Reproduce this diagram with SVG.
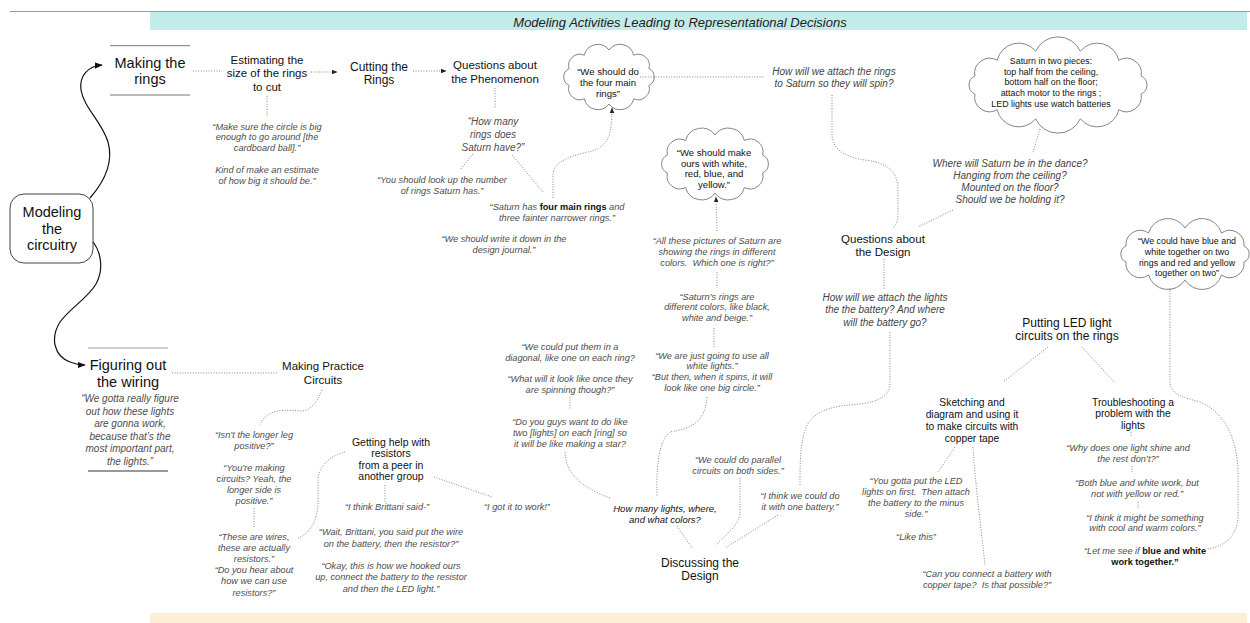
<svg xmlns="http://www.w3.org/2000/svg" width="1250" height="623" viewBox="0 0 1250 623">
  <defs>
    <style>
      text { font-family: "Liberation Sans", Arial, Helvetica, sans-serif; text-anchor: middle; fill: #111; }
      .title { font-size: 13px; font-style: italic; fill: #222; }
      .big { font-size: 14.5px; }
      .mid { font-size: 11.5px; }
      .mid12 { font-size: 12px; }
      .sm { font-size: 10.3px; }
      .q { font-size: 9.2px; font-style: italic; fill: #4d4d4d; }
      .ask { font-size: 10px; font-style: italic; fill: #444; }
      .topic { font-size: 9.5px; font-style: italic; fill: #111; }
      .cl { font-size: 9.6px; }
      .cl2 { font-size: 8.9px; }
      .b { font-weight: bold; font-style: normal; fill: #111; }
      .cloud { fill: #fff; stroke: #777; stroke-width: 0.9; }
      .rule { stroke: #777; stroke-width: 1; }
      .dot { fill: none; stroke: #777; stroke-width: 0.9; stroke-dasharray: 1 1.6; }
      .solid { fill: none; stroke: #111; stroke-width: 1.2; }
    </style>
    <marker id="arrow" viewBox="0 0 10 10" refX="9" refY="5" markerWidth="8" markerHeight="8" markerUnits="userSpaceOnUse" orient="auto">
      <path d="M0,1 L10,5 L0,9 z" fill="#111"/>
    </marker>
    <marker id="arrow-dot" viewBox="0 0 10 10" refX="9" refY="5" markerWidth="6" markerHeight="6" markerUnits="userSpaceOnUse" orient="auto">
      <path d="M0,1 L10,5 L0,9 z" fill="#222"/>
    </marker>
  </defs>

  <rect width="1250" height="623" fill="#fff"/>

  <!-- header and footer bands -->
  <g id="frame">
    <line x1="10" y1="11.5" x2="1250" y2="11.5" stroke="#999" stroke-width="1"/>
    <rect x="150" y="12" width="1097" height="18" fill="#c2ebe9"/>
    <rect x="150" y="613" width="1097" height="10" fill="#fdeed6"/>
    <text class="title" x="680" y="26.5">Modeling Activities Leading to Representational Decisions</text>
  </g>

  <!-- root node -->
  <g id="n-modeling-circuitry">
    <rect x="10" y="194" width="83" height="69" rx="14" fill="#fff" stroke="#444" stroke-width="1"/>
    <text class="big"><tspan x="52" y="217">Modeling</tspan><tspan x="52" y="234">the</tspan><tspan x="52" y="250">circuitry</tspan></text>
  </g>

  <!-- upper branch: making the rings -->
  <g id="n-making-rings">
    <line class="rule" x1="110" y1="45.7" x2="190" y2="45.7"/>
    <line class="rule" x1="110" y1="95" x2="190" y2="95"/>
    <text class="big"><tspan x="150" y="68">Making the</tspan><tspan x="150" y="84">rings</tspan></text>
  </g>

  <g id="n-estimating">
    <text class="mid"><tspan x="267" y="63.5">Estimating the</tspan><tspan x="267" y="77">size of the rings</tspan><tspan x="267" y="90.5">to cut</tspan></text>
  </g>
  <g id="q-circle-big">
    <text class="q"><tspan x="267" y="129.5">“Make sure the circle is big</tspan><tspan x="267" y="140">enough to go around [the</tspan><tspan x="267" y="150.5">cardboard ball].”</tspan><tspan x="267" y="172.5">Kind of make an estimate</tspan><tspan x="267" y="183.5">of how big it should be.”</tspan></text>
  </g>

  <g id="n-cutting">
    <text class="mid12"><tspan x="379" y="70.5">Cutting the</tspan><tspan x="379" y="84">Rings</tspan></text>
  </g>

  <g id="n-questions-phenomenon">
    <text class="mid"><tspan x="495" y="68.5">Questions about</tspan><tspan x="495" y="82.5">the Phenomenon</tspan></text>
  </g>
  <g id="q-how-many-rings">
    <text class="q" style="font-size:10px"><tspan x="493" y="125">“How many</tspan><tspan x="493" y="138">rings does</tspan><tspan x="493" y="150.5">Saturn have?”</tspan></text>
  </g>
  <g id="q-look-up">
    <text class="q"><tspan x="442" y="183">“You should look up the number</tspan><tspan x="442" y="194">of rings Saturn has.”</tspan></text>
  </g>
  <g id="q-four-main">
    <text class="q"><tspan x="557" y="210">“Saturn has <tspan class="b">four main rings</tspan> and</tspan><tspan x="557" y="221">three fainter narrower rings.”</tspan></text>
  </g>
  <g id="q-journal">
    <text class="q"><tspan x="504" y="242">“We should write it down in the</tspan><tspan x="504" y="253">design journal.”</tspan></text>
  </g>

  <g id="c-four-main">
    <path class="cloud" d="M648.9,85.3 A11.2,11.2 0 0 1 633.7,98.8 A13.9,13.9 0 0 1 609,104 A13.9,13.9 0 0 1 584.3,98.8 A11.2,11.2 0 0 1 569.1,85.3 A9.1,9.1 0 0 1 569.1,68.7 A11.2,11.2 0 0 1 584.3,55.2 A13.9,13.9 0 0 1 609,50 A13.9,13.9 0 0 1 633.7,55.2 A11.2,11.2 0 0 1 648.9,68.7 A9.1,9.1 0 0 1 648.9,85.3 Z"/>
    <text class="cl"><tspan x="608" y="75">“We should do</tspan><tspan x="608" y="86">the four main</tspan><tspan x="608" y="96.5">rings”</tspan></text>
  </g>

  <g id="q-attach-rings">
    <text class="ask"><tspan x="834" y="75">How will we attach the rings</tspan><tspan x="834" y="87">to Saturn so they will spin?</tspan></text>
  </g>

  <g id="c-two-pieces">
    <path class="cloud" d="M1141.1,94.1 A15,15 0 0 1 1118.8,109.7 A22,22 0 0 1 1080.3,118.8 A24.5,24.5 0 0 1 1035.7,118.8 A22,22 0 0 1 997.2,109.7 A15,15 0 0 1 974.9,94.1 A10,10 0 0 1 974.9,75.9 A15,15 0 0 1 997.2,60.3 A22,22 0 0 1 1035.7,51.2 A24.5,24.5 0 0 1 1080.3,51.2 A22,22 0 0 1 1118.8,60.3 A15,15 0 0 1 1141.1,75.9 A10,10 0 0 1 1141.1,94.1 Z"/>
    <text class="cl2"><tspan x="1051" y="63.5">Saturn in two pieces:</tspan><tspan x="1051" y="74.5">top half from the ceiling,</tspan><tspan x="1051" y="85">bottom half on the floor;</tspan><tspan x="1051" y="95.5">attach motor to the rings ;</tspan><tspan x="1051" y="106.5">LED lights use watch batteries</tspan></text>
  </g>

  <g id="q-where-saturn">
    <text class="ask"><tspan x="1010" y="167">Where will Saturn be in the dance?</tspan><tspan x="1010" y="179">Hanging from the ceiling?</tspan><tspan x="1010" y="191">Mounted on the floor?</tspan><tspan x="1010" y="203">Should we be holding it?</tspan></text>
  </g>

  <g id="n-questions-design">
    <text class="mid"><tspan x="883" y="242.5">Questions about</tspan><tspan x="883" y="256">the Design</tspan></text>
  </g>
  <g id="q-attach-lights">
    <text class="ask"><tspan x="885" y="300.5">How will we attach the lights</tspan><tspan x="885" y="313">the the battery? And where</tspan><tspan x="885" y="325.5">will the battery go?</tspan></text>
  </g>

  <g id="c-make-ours">
    <path class="cloud" d="M762.6,173 A12.8,12.8 0 0 1 744.4,187.5 A16.5,16.5 0 0 1 715,193 A16.5,16.5 0 0 1 685.6,187.5 A12.8,12.8 0 0 1 667.4,173 A9.9,9.9 0 0 1 667.4,155 A12.8,12.8 0 0 1 685.6,140.5 A16.5,16.5 0 0 1 715,135 A16.5,16.5 0 0 1 744.4,140.5 A12.8,12.8 0 0 1 762.6,155 A9.9,9.9 0 0 1 762.6,173 Z"/>
    <text class="cl"><tspan x="714" y="156">“We should make</tspan><tspan x="714" y="166.7">ours with white,</tspan><tspan x="714" y="177.4">red, blue, and</tspan><tspan x="714" y="188.1">yellow.”</tspan></text>
  </g>

  <g id="q-all-pictures">
    <text class="q"><tspan x="717" y="243.5">“All these pictures of Saturn are</tspan><tspan x="717" y="254.5">showing the rings in different</tspan><tspan x="717" y="265.5">colors.&#160; Which one is right?”</tspan></text>
  </g>
  <g id="q-beige">
    <text class="q"><tspan x="717" y="299.5">“Saturn’s rings are</tspan><tspan x="717" y="310">different colors, like black,</tspan><tspan x="717" y="320.5">white and beige.”</tspan></text>
  </g>
  <g id="q-white-lights">
    <text class="q"><tspan x="712" y="358.5">“We are just going to use all</tspan><tspan x="712" y="369.2">white lights.”</tspan><tspan x="712" y="380">“But then, when it spins, it will</tspan><tspan x="712" y="391">look like one big circle.”</tspan></text>
  </g>

  <g id="q-diagonal">
    <text class="q"><tspan x="570" y="349.5">“We could put them in a</tspan><tspan x="570" y="360.5">diagonal, like one on each ring?</tspan></text>
  </g>
  <g id="q-spinning">
    <text class="q"><tspan x="570" y="381.5">“What will it look like once they</tspan><tspan x="570" y="392.5">are spinning though?”</tspan></text>
  </g>
  <g id="q-star">
    <text class="q"><tspan x="570" y="424.5">“Do you guys want to do like</tspan><tspan x="570" y="435.5">two [lights] on each [ring] so</tspan><tspan x="570" y="446.5">it will be like making a star?</tspan></text>
  </g>

  <g id="n-how-many-lights">
    <text class="topic"><tspan x="665" y="511.5">How many lights, where,</tspan><tspan x="665" y="522.5">and what colors?</tspan></text>
  </g>
  <g id="q-parallel">
    <text class="q"><tspan x="738" y="462.5">“We could do parallel</tspan><tspan x="738" y="473.5">circuits on both sides.”</tspan></text>
  </g>
  <g id="q-one-battery">
    <text class="q"><tspan x="800" y="498.5">“I think we could do</tspan><tspan x="800" y="509.5">it with one battery.”</tspan></text>
  </g>
  <g id="n-discussing">
    <text class="mid12"><tspan x="700" y="566.5">Discussing the</tspan><tspan x="700" y="580">Design</tspan></text>
  </g>

  <!-- LED circuits branch -->
  <g id="n-putting-led">
    <text class="mid12"><tspan x="1067" y="326.5">Putting LED light</tspan><tspan x="1067" y="339.5">circuits on the rings</tspan></text>
  </g>

  <g id="c-blue-white">
    <path class="cloud" d="M1244,262 A14.3,14.3 0 0 1 1221.5,275 A20.2,20.2 0 0 1 1185,280 A20.2,20.2 0 0 1 1148.5,275 A14.3,14.3 0 0 1 1126,262 A8.8,8.8 0 0 1 1126,246 A14.3,14.3 0 0 1 1148.5,233 A20.2,20.2 0 0 1 1185,228 A20.2,20.2 0 0 1 1221.5,233 A14.3,14.3 0 0 1 1244,246 A8.8,8.8 0 0 1 1244,262 Z"/>
    <text class="cl2"><tspan x="1187" y="243.5">“We could have blue and</tspan><tspan x="1187" y="254.5">white together on two</tspan><tspan x="1187" y="265.5">rings and red and yellow</tspan><tspan x="1187" y="276">together on two”</tspan></text>
  </g>

  <g id="n-sketching">
    <text class="sm"><tspan x="972" y="406">Sketching and</tspan><tspan x="972" y="418">diagram and using it</tspan><tspan x="972" y="430">to make circuits with</tspan><tspan x="972" y="442">copper tape</tspan></text>
  </g>
  <g id="q-led-first">
    <text class="q"><tspan x="916" y="483.5">“You gotta put the LED</tspan><tspan x="916" y="494.5">lights on first.&#160; Then attach</tspan><tspan x="916" y="505.5">the battery to the minus</tspan><tspan x="916" y="517">side.”</tspan><tspan x="916" y="539.5">“Like this”</tspan></text>
  </g>
  <g id="q-copper">
    <text class="q"><tspan x="987" y="577">“Can you connect a battery with</tspan><tspan x="987" y="588">copper tape?&#160; Is that possible?”</tspan></text>
  </g>

  <g id="n-troubleshooting">
    <text class="sm"><tspan x="1133" y="405.5">Troubleshooting a</tspan><tspan x="1133" y="417">problem with the</tspan><tspan x="1133" y="428.5">lights</tspan></text>
  </g>
  <g id="q-why-one">
    <text class="q"><tspan x="1128" y="451">“Why does one light shine and</tspan><tspan x="1128" y="462">the rest don’t?”</tspan></text>
  </g>
  <g id="q-both">
    <text class="q"><tspan x="1137" y="485.5">“Both blue and white work, but</tspan><tspan x="1137" y="496.5">not with yellow or red.”</tspan></text>
  </g>
  <g id="q-cool">
    <text class="q"><tspan x="1145" y="520.5">“I think it might be something</tspan><tspan x="1145" y="531">with cool and warm colors.”</tspan></text>
  </g>
  <g id="q-let-me">
    <text class="q"><tspan x="1145" y="553.5">“Let me see if <tspan class="b">blue and white</tspan></tspan><tspan x="1145" y="565" class="b">work together.”</tspan></text>
  </g>

  <!-- lower branch: figuring out the wiring -->
  <g id="n-figuring">
    <line x1="88" y1="348" x2="168" y2="348" stroke="#999" stroke-width="1"/>
    <line x1="88" y1="471" x2="168" y2="471" stroke="#333" stroke-width="1"/>
    <text class="big"><tspan x="128" y="370">Figuring out</tspan><tspan x="128" y="387">the wiring</tspan></text>
    <text class="q" style="font-size:10px"><tspan x="130" y="402">“We gotta really figure</tspan><tspan x="130" y="415">out how these lights</tspan><tspan x="130" y="427">are gonna work,</tspan><tspan x="130" y="440">because that’s the</tspan><tspan x="130" y="452">most important part,</tspan><tspan x="130" y="465">the lights.”</tspan></text>
  </g>

  <g id="n-practice">
    <text class="mid"><tspan x="323" y="370">Making Practice</tspan><tspan x="323" y="384">Circuits</tspan></text>
  </g>
  <g id="q-longer-leg">
    <text class="q"><tspan x="254" y="437.5">“Isn’t the longer leg</tspan><tspan x="254" y="449">positive?”</tspan></text>
  </g>
  <g id="q-making-circuits">
    <text class="q"><tspan x="254" y="471">“You’re making</tspan><tspan x="254" y="482">circuits? Yeah, the</tspan><tspan x="254" y="492.5">longer side is</tspan><tspan x="254" y="503.5">positive.”</tspan></text>
  </g>
  <g id="q-wires">
    <text class="q"><tspan x="254" y="540">“These are wires,</tspan><tspan x="254" y="551">these are actually</tspan><tspan x="254" y="561.5">resistors.”</tspan><tspan x="254" y="573">“Do you hear about</tspan><tspan x="254" y="584">how we can use</tspan><tspan x="254" y="595.5">resistors?”</tspan></text>
  </g>

  <g id="n-getting-help">
    <text class="sm" style="font-size:10.5px"><tspan x="391" y="446">Getting help with</tspan><tspan x="391" y="457">resistors</tspan><tspan x="391" y="469">from a peer in</tspan><tspan x="391" y="480">another group</tspan></text>
  </g>
  <g id="q-brittani">
    <text class="q"><tspan x="387" y="510">“I think Brittani said-”</tspan></text>
  </g>
  <g id="q-wait">
    <text class="q"><tspan x="391" y="535">“Wait, Brittani, you said put the wire</tspan><tspan x="391" y="546.5">on the battery, then the resistor?”</tspan></text>
  </g>
  <g id="q-okay">
    <text class="q"><tspan x="391" y="569">“Okay, this is how we hooked ours</tspan><tspan x="391" y="580">up, connect the battery to the resistor</tspan><tspan x="391" y="591.5">and then the LED light.”</tspan></text>
  </g>
  <g id="q-got-it">
    <text class="q"><tspan x="517" y="510">“I got it to work!”</tspan></text>
  </g>

  <!-- connectors -->
  <g id="connectors">
    <path class="solid" marker-end="url(#arrow)" d="M90,198 C104,182 114,163 108,142 C102,122 84,108 81,90 C79,76 88,66 102,65"/>
    <path class="solid" marker-end="url(#arrow)" d="M93,242 C101,252 104,270 96,284 C88,298 70,308 60,322 C50,338 54,356 70,362 C75,364 79,365 85,365"/>

    <path class="dot" d="M193,71 L222,71"/>
    <path class="dot" marker-end="url(#arrow-dot)" d="M311,72 L337,72"/>
    <path class="dot" marker-end="url(#arrow-dot)" d="M413,71 L446,71"/>
    <path class="dot" d="M267,96 L267,117"/>
    <path class="dot" d="M495,88 L495,108"/>
    <path class="dot" d="M473,154 L460,170"/>
    <path class="dot" d="M512,155 L543,192"/>
    <path class="dot" marker-end="url(#arrow-dot)" d="M553,198 L553,175 C553,160 575,155 592,151 C608,146 612,135 612,108"/>
    <path class="dot" d="M640,77 L765,77"/>
    <path class="dot" d="M832,95 L832,135 C833,150 845,157 865,160 C888,163 898,172 898,190 L898,215 C898,222 895,226 893,228"/>
    <path class="dot" d="M1040,129 L1033,152"/>
    <path class="dot" d="M953,210 L918,227"/>
    <path class="dot" d="M884,259 L884,289"/>
    <path class="dot" d="M890,332 L890,385 C889,398 875,403 850,405 C825,407 810,415 805,430 C800,445 800,465 800,485"/>
    <path class="dot" marker-end="url(#arrow-dot)" d="M717,231 L716,197"/>
    <path class="dot" d="M717,272 L717,288"/>
    <path class="dot" d="M714,328 L714,347"/>
    <path class="dot" d="M707,397 C705,420 695,428 670,432 C660,440 656,460 657,497"/>
    <path class="dot" d="M570,397 L570,410"/>
    <path class="dot" d="M565,452 C566,470 575,485 610,498"/>
    <path class="dot" d="M677,526 L692,548"/>
    <path class="dot" d="M740,478 L740,512 C740,525 725,535 716,545"/>
    <path class="dot" d="M778,515 L725,548"/>
    <path class="dot" d="M1048,347 L1003,382"/>
    <path class="dot" d="M1082,347 L1115,383"/>
    <path class="dot" d="M955,447 L938,472"/>
    <path class="dot" d="M973,447 C975,480 980,520 985,565"/>
    <path class="dot" d="M1131,432 L1131,436"/>
    <path class="dot" d="M1132,466 L1132,472"/>
    <path class="dot" d="M1138,502 L1138,508"/>
    <path class="dot" d="M1170,288 L1170,383 C1171,395 1185,398 1200,402 C1225,412 1238,440 1238,475 L1238,515 C1238,535 1225,547 1207,549"/>
    <path class="dot" d="M172,373 L277,373"/>
    <path class="dot" d="M322,390 C316,404 310,412 298,411 C282,409 266,410 260,425"/>
    <path class="dot" d="M254,508 L254,527"/>
    <path class="dot" d="M298,538 C308,534 316,525 318,505 L318,478 C320,465 330,456 345,452"/>
    <path class="dot" d="M385,485 L385,502"/>
    <path class="dot" d="M434,477 L492,497"/>
  </g>
</svg>
